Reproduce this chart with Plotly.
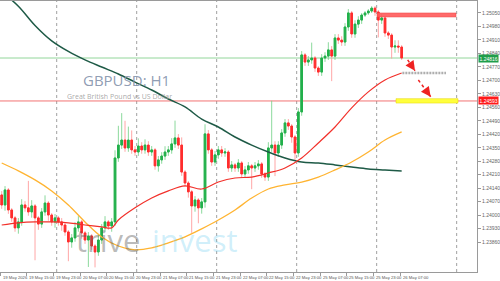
import plotly.graph_objects as go

# ---------------- data (GBPUSD H1) ----------------
first_open = 1.24105
closes = [
    1.24053, 1.24131, 1.24027, 1.23986, 1.23934, 1.23965, 1.24053, 1.24038, 1.24017, 1.24048,
    1.23986, 1.23954, 1.24017, 1.24063, 1.24001, 1.23965, 1.23986, 1.23965, 1.23949, 1.23913,
    1.23861, 1.23882, 1.23934, 1.23965, 1.23908, 1.23871, 1.23892, 1.23840, 1.23809, 1.23871,
    1.23934, 1.23965, 1.23944, 1.23965, 1.24297, 1.24364, 1.24390, 1.24349, 1.24390, 1.24339,
    1.24328, 1.24359, 1.24339, 1.24364, 1.24328, 1.24339, 1.24256, 1.24287, 1.24307, 1.24328,
    1.24339, 1.24370, 1.24401, 1.24364, 1.24224, 1.24167, 1.24121, 1.24048, 1.24079, 1.24038,
    1.24069, 1.24422, 1.24339, 1.24276, 1.24313, 1.24339, 1.24323, 1.24328, 1.24245, 1.24261,
    1.24245, 1.24271, 1.24214, 1.24235, 1.24256, 1.24245, 1.24256, 1.24266, 1.24214, 1.24198,
    1.24349, 1.24364, 1.24323, 1.24364, 1.24427, 1.24479, 1.24463, 1.24406, 1.24323, 1.24536,
    1.24832, 1.24795, 1.24806, 1.24816, 1.24764, 1.24743, 1.24816, 1.24826, 1.24858, 1.24826,
    1.24920, 1.24909, 1.24899, 1.24977, 1.25050, 1.24941, 1.24992, 1.25013, 1.25039, 1.25050,
    1.25060, 1.25075, 1.25055, 1.25013, 1.25024, 1.24946, 1.24935, 1.24873, 1.24878, 1.24873,
    1.24816,
]
# wick lengths in pips
upper_wick_pips = [
    2, 2, 1, 1, 1, 2, 3, 2, 14, 3, 1, 1, 2, 4, 1, 1, 2, 1, 2, 1,
    1, 2, 3, 3, 1, 1, 2, 1, 1, 3, 2, 3, 1, 2, 4, 10, 14, 10, 7, 5,
    2, 4, 2, 3, 2, 2, 1, 2, 2, 3, 2, 3, 9, 2, 4, 1, 1, 1, 2, 1,
    2, 5, 2, 1, 2, 2, 2, 2, 1, 2, 1, 2, 1, 2, 2, 1, 2, 2, 1, 1,
    3, 23, 2, 2, 2, 2, 2, 1, 1, 2, 2, 1, 2, 8, 1, 1, 2, 2, 4, 2,
    2, 2, 2, 2, 2, 1, 2, 2, 1, 1, 1, 1, 1, 1, 2, 1, 1, 1, 3, 3,
    1,
]
lower_wick_pips = [
    2, 3, 2, 2, 2, 3, 2, 2, 2, 3, 22, 3, 2, 2, 3, 2, 3, 2, 3, 2,
    10, 3, 2, 2, 3, 2, 14, 2, 8, 2, 2, 2, 2, 3, 2, 2, 2, 2, 2, 2,
    2, 2, 2, 2, 2, 2, 2, 3, 2, 2, 2, 2, 2, 2, 2, 2, 3, 14, 3, 8,
    3, 3, 2, 2, 2, 2, 2, 2, 2, 2, 2, 2, 2, 2, 2, 11, 2, 2, 2, 2,
    2, 2, 12, 2, 2, 2, 2, 3, 4, 2, 2, 2, 2, 2, 2, 2, 2, 2, 2, 13,
    2, 2, 2, 2, 2, 2, 2, 2, 2, 1, 1, 1, 2, 9, 2, 2, 2, 6, 3, 3,
    1,
]

# moving averages read every 5 bars
ma_index = [0, 5, 10, 15, 20, 25, 30, 35, 40, 45, 50, 55, 60, 65, 70, 75, 80, 85, 90, 95, 100, 105, 110, 115, 120]
ma_fast_index = [0, 5, 10, 15, 20, 25, 30, 33, 35, 40, 45, 50, 55, 60, 65, 70, 75, 80, 85, 90, 95, 100, 105, 110, 115, 120]
ma_fast = [1.23949, 1.23960, 1.23965, 1.23965, 1.23960, 1.23949, 1.23939, 1.23934, 1.23975, 1.24038,
           1.24089, 1.24126, 1.24152, 1.24136, 1.24172, 1.24193, 1.24198, 1.24219, 1.24245, 1.24297,
           1.24375, 1.24458, 1.24557, 1.24640, 1.24702, 1.24738]
ma_mid = [1.24271, 1.24230, 1.24183, 1.24126, 1.24053, 1.23965, 1.23887, 1.23840, 1.23820, 1.23830,
          1.23856, 1.23887, 1.23929, 1.23975, 1.24027, 1.24089, 1.24136, 1.24157, 1.24172, 1.24198,
          1.24235, 1.24276, 1.24328, 1.24390, 1.24432]
ma_slow = [1.25160, 1.25085, 1.24985, 1.24905, 1.24850, 1.24806, 1.24769, 1.24733, 1.24691, 1.24650,
           1.24603, 1.24562, 1.24499, 1.24458, 1.24406, 1.24364, 1.24328, 1.24297, 1.24276, 1.24271,
           1.24261, 1.24250, 1.24240, 1.24235, 1.24230]

x_label_index = [0, 8, 16, 24, 32, 40, 48, 56, 64, 72, 80, 88, 96, 104, 112, 120]
x_labels = ["19 May 2026", "19 May 15:00", "19 May 23:00", "20 May 07:00", "20 May 15:00",
            "20 May 23:00", "21 May 07:00", "21 May 15:00", "21 May 23:00", "22 May 07:00",
            "22 May 15:00", "22 May 23:00", "25 May 07:00", "25 May 15:00", "25 May 23:00",
            "26 May 07:00"]
day_start_index = [17, 41, 65, 89, 113, 137]

y_ticks = [1.25050, 1.24980, 1.24910, 1.24840, 1.24770, 1.24700, 1.24630, 1.24560, 1.24490,
           1.24420, 1.24350, 1.24280, 1.24210, 1.24140, 1.24070, 1.24000, 1.23930, 1.23860]

support_level = 1.24593
resistance_zone = (1.25029, 1.25050)
target_1 = 1.24738
target_2_zone = (1.24582, 1.24605)
# ---------------------------------------------------

n = len(closes)
idx = list(range(n))
opens = [first_open] + closes[:-1]
pip = 0.0001
highs = [max(o, c) + u * pip for o, c, u in zip(opens, closes, upper_wick_pips)]
lows = [min(o, c) - d * pip for o, c, d in zip(opens, closes, lower_wick_pips)]
body_hi = [max(o, c) for o, c in zip(opens, closes)]
body_lo = [min(o, c) for o, c in zip(opens, closes)]

GREEN = "#22b04b"
RED = "#ff2d2d"

fig = go.Figure()

# wicks (lighter)
fig.add_trace(go.Candlestick(
    x=idx, open=opens, high=highs, low=lows, close=closes,
    increasing=dict(line=dict(color="rgba(120,210,140,0.85)", width=1), fillcolor="rgba(120,210,140,0.85)"),
    decreasing=dict(line=dict(color="rgba(255,150,150,0.85)", width=1), fillcolor="rgba(255,150,150,0.85)"),
    showlegend=False, hoverinfo="skip"))
# bodies
fig.add_trace(go.Candlestick(
    x=idx, open=opens, high=body_hi, low=body_lo, close=closes,
    increasing=dict(line=dict(color=GREEN, width=1), fillcolor=GREEN),
    decreasing=dict(line=dict(color=RED, width=1), fillcolor=RED),
    showlegend=False, hoverinfo="skip"))

fig.add_trace(go.Scatter(x=ma_index, y=ma_slow, mode="lines",
                         line=dict(color="#1e5a46", width=1.5, shape="spline"), showlegend=False))
fig.add_trace(go.Scatter(x=ma_index, y=ma_mid, mode="lines",
                         line=dict(color="#ffb431", width=1.3, shape="spline"), showlegend=False))
fig.add_trace(go.Scatter(x=ma_fast_index, y=ma_fast, mode="lines",
                         line=dict(color="#f2302a", width=1.2, shape="spline"), showlegend=False))

shapes = []
for d in day_start_index:
    shapes.append(dict(type="line", xref="x", yref="paper", x0=d - 0.5, x1=d - 0.5, y0=0, y1=1,
                       line=dict(color="#a0a0a0", width=1, dash="dot"), layer="below"))
last_close = closes[-1]
shapes.append(dict(type="line", xref="paper", yref="y", x0=0, x1=1, y0=last_close, y1=last_close,
                   line=dict(color="rgba(110,200,120,0.75)", width=1), layer="below"))
shapes.append(dict(type="line", xref="paper", yref="y", x0=0, x1=1, y0=support_level, y1=support_level,
                   line=dict(color="rgba(240,90,90,0.85)", width=1), layer="below"))
shapes.append(dict(type="rect", xref="x", yref="y", x0=112.6, x1=136.3,
                   y0=resistance_zone[0], y1=resistance_zone[1],
                   fillcolor="rgba(255,90,90,0.9)", line=dict(color="rgba(240,70,70,1)", width=0.5)))
shapes.append(dict(type="line", xref="x", yref="y", x0=120.2, x1=133.3, y0=target_1, y1=target_1,
                   line=dict(color="rgba(165,165,165,0.9)", width=2.5, dash="2px,1px")))
shapes.append(dict(type="rect", xref="x", yref="y", x0=118.3, x1=136.9,
                   y0=target_2_zone[0], y1=target_2_zone[1],
                   fillcolor="rgba(255,255,60,1)", line=dict(color="rgba(230,210,0,1)", width=0.5)))
# dotted arrows
arrows = [((121.8, 1.24806), (124.0, 1.24750)), ((125.0, 1.24702), (128.7, 1.24615))]
for (xa, ya), (xb, yb) in arrows:
    shapes.append(dict(type="line", xref="x", yref="y", x0=xa, x1=xb, y0=ya, y1=yb,
                       line=dict(color="#ee2222", width=1.5, dash="dot")))

annotations = []
for (xa, ya), (xb, yb) in arrows:
    annotations.append(dict(x=xb, y=yb, xref="x", yref="y", ax=xa + (xb - xa) * 0.55,
                            ay=ya + (yb - ya) * 0.55, axref="x", ayref="y", text="",
                            showarrow=True, arrowhead=2, arrowsize=1.3, arrowwidth=1.5,
                            arrowcolor="#ee2222"))

for i, t in zip(x_label_index, x_labels):
    annotations.append(dict(x=i - 0.5, y=0, xref="x", yref="paper", text=t, showarrow=False,
                            xanchor="left", yanchor="top", yshift=-1, xshift=0.5,
                            font=dict(size=4.2, color="#555", family="Liberation Sans")))

annotations.append(dict(x=1, y=last_close, xref="paper", yref="y", text=f"{last_close:.5f}",
                        showarrow=False, xanchor="left", yanchor="middle", xshift=1,
                        bgcolor="#1f9e4a", borderpad=0.5,
                        font=dict(size=5, color="white", family="Liberation Sans")))
annotations.append(dict(x=1, y=support_level, xref="paper", yref="y", text=f"{support_level:.5f}",
                        showarrow=False, xanchor="left", yanchor="middle", xshift=1,
                        bgcolor="#ff1a1a", borderpad=0.5,
                        font=dict(size=5, color="white", family="Liberation Sans")))

annotations.append(dict(x=0.172, y=0.694, xref="paper", yref="paper", text="GBPUSD: H1",
                        showarrow=False, xanchor="left", yanchor="bottom", yshift=-7,
                        borderpad=0,
                        font=dict(size=15, color="rgba(130,145,170,0.9)", family="Open Sans")))
annotations.append(dict(x=0.138, y=0.653, xref="paper", yref="paper",
                        text="Great British Pound vs US Dollar",
                        showarrow=False, xanchor="left", yanchor="top", yshift=4, borderpad=0,
                        font=dict(size=7, color="rgba(160,160,160,0.9)", family="Open Sans")))
annotations.append(dict(x=0.155, y=0.118, xref="paper", yref="paper", text="trive",
                        showarrow=False, xanchor="left", yanchor="middle",
                        font=dict(size=31, color="rgba(90,90,90,0.42)", family="Open Sans")))
annotations.append(dict(x=0.314, y=0.118, xref="paper", yref="paper", text="invest",
                        showarrow=False, xanchor="left", yanchor="middle",
                        font=dict(size=31, color="rgba(110,205,240,0.32)", family="Open Sans")))

fig.update_layout(
    width=500, height=281,
    margin=dict(l=0, r=23, t=1, b=9),
    paper_bgcolor="white", plot_bgcolor="white",
    shapes=shapes, annotations=annotations,
    showlegend=False,
    xaxis=dict(range=[-0.51, 142.6], showgrid=False, zeroline=False, showline=True, mirror=True,
               linecolor="#9a9a9a", linewidth=1, ticks="outside", ticklen=3, tickcolor="#9a9a9a",
               tickvals=[i - 0.5 for i in x_label_index], showticklabels=False,
               rangeslider=dict(visible=False), fixedrange=True),
    yaxis=dict(range=[1.23705, 1.25112], side="right", showgrid=False, zeroline=False,
               showline=True, linecolor="#9a9a9a", linewidth=1, ticks="outside", ticklen=3,
               tickcolor="#9a9a9a", tickvals=y_ticks, ticktext=[f"{v:.5f}" for v in y_ticks],
               tickfont=dict(size=5, color="#666", family="Liberation Sans"), fixedrange=True),
)

fig.write_html("out.html", config={"displayModeBar": False})
